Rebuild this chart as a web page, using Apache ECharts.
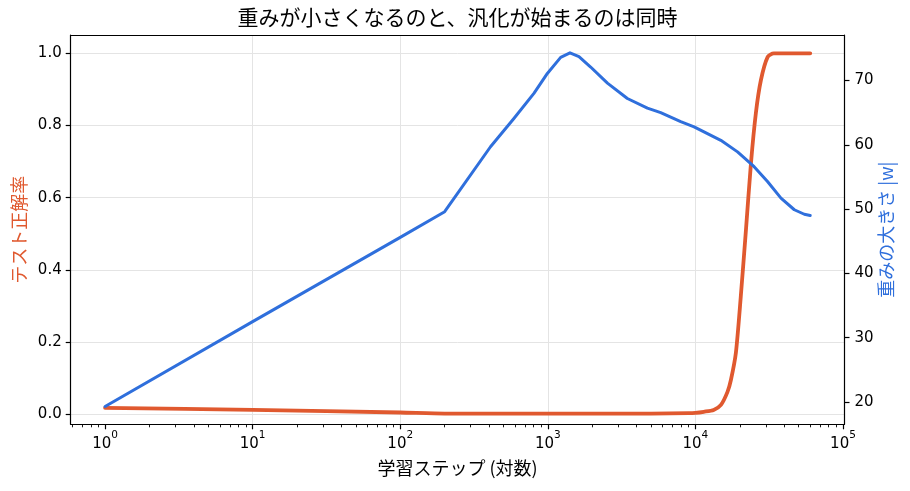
<!DOCTYPE html>
<html>
<head>
<meta charset="utf-8">
<title>grokking</title>
<script src="https://cdn.jsdelivr.net/npm/echarts@6/dist/echarts.min.js"></script>
<style>
  html, body { margin: 0; padding: 0; background: #fff; }
  #main { width: 910px; height: 491px; }
</style>
</head>
<body>
<div id="main"></div>
<script>
// テスト正解率 (left axis)
const accSteps  = [1, 10, 100, 200, 1000, 5000, 9000, 10000, 11400, 13300, 14900, 16500, 17400, 18800, 20300, 22000, 23800, 25700, 27800, 30900, 34000, 60000];
const accValues = [0.018, 0.012, 0.005, 0.002, 0.002, 0.002, 0.003, 0.004, 0.007, 0.012, 0.026, 0.062, 0.095, 0.17, 0.326, 0.51, 0.696, 0.835, 0.926, 0.99, 1.0, 1.0];

// 重みの大きさ |w| (right axis)
const normSteps  = [1, 10, 100, 200, 409, 589, 805, 993, 1222, 1413, 1626, 1950, 2535, 3460, 4730, 5820, 7950, 9800, 14870, 19300, 25000, 30800, 38000, 46800, 54700, 60000];
const normValues = [19.3, 32.5, 45.6, 49.6, 59.7, 64.1, 68.0, 71.1, 73.6, 74.3, 73.7, 72.1, 69.6, 67.2, 65.7, 65.0, 63.6, 62.8, 60.7, 58.9, 56.6, 54.3, 51.7, 49.9, 49.2, 49.0];

// tick labels
const xTicks = [1, 10, 100, 1000, 10000, 100000];
const accTicks = [0, 0.2, 0.4, 0.6, 0.8, 1.0];
const normTicks = [20, 30, 40, 50, 60, 70];

// minor ticks of the log axis (2..9 x 10^k)
const xMinorTicks = [];
for (let k = -1; k <= 4; k++) {
  for (let m = 2; m <= 9; m++) {
    const v = m * Math.pow(10, k);
    if (v > 0.585 && v < 102400) xMinorTicks.push(v);
  }
}

const RED = '#e0592f';
const BLUE = '#2f6fdc';
const CJK = '"Noto Sans CJK JP", "Noto Sans", sans-serif';
const NUM = '"DejaVu Sans", sans-serif';
const GRID = '#e4e4e4';

const pairs = (xs, ys) => xs.map((x, i) => [x, ys[i]]);

const chart = echarts.init(document.getElementById('main'), null, { renderer: 'canvas' });

const option = {
  animation: false,
  backgroundColor: '#fff',
  title: {
    text: '重みが小さくなるのと、汎化が始まるのは同時',
    left: 457.5,
    textAlign: 'center',
    top: 7,
    padding: 0,
    textStyle: { fontFamily: CJK, fontSize: 21, fontWeight: 'normal', color: '#000' }
  },
  grid: { left: 70.7, right: 65.5, top: 35, bottom: 66.7, containLabel: false },
  xAxis: [
    {
      type: 'log', logBase: 10, min: 0.585, max: 102400, position: 'bottom',
      name: '学習ステップ (対数)', nameLocation: 'middle', nameGap: 35,
      nameTextStyle: { fontFamily: CJK, fontSize: 18, color: '#000' },
      axisLine: { show: true, onZero: false, lineStyle: { color: '#000', width: 1.2 } },
      axisTick: { show: true, length: 5, customValues: xTicks, lineStyle: { color: '#000', width: 1.2 } },
      axisLabel: {
        margin: 5,
        customValues: xTicks,
        formatter: v => '{b|10}{s|' + Math.round(Math.log10(v)) + '}',
        rich: {
          b: { fontFamily: NUM, fontSize: 15, color: '#000', lineHeight: 22, verticalAlign: 'bottom' },
          s: { fontFamily: NUM, fontSize: 10.5, color: '#000', lineHeight: 10, verticalAlign: 'top' }
        }
      },
      splitLine: { show: true, showMinLine: false, showMaxLine: false, lineStyle: { color: GRID, width: 1 } }
    },
    {
      type: 'log', logBase: 10, min: 0.585, max: 102400, position: 'bottom',
      axisLine: { show: false, onZero: false },
      axisTick: { show: true, length: 3, customValues: xMinorTicks, lineStyle: { color: '#000', width: 0.9 } },
      axisLabel: { show: false },
      splitLine: { show: false }
    },
    {
      type: 'log', logBase: 10, min: 0.585, max: 102400, position: 'top',
      axisLine: { show: true, onZero: false, lineStyle: { color: '#000', width: 1.2 } },
      axisTick: { show: false },
      axisLabel: { show: false },
      splitLine: { show: false }
    }
  ],
  yAxis: [
    {
      type: 'value', position: 'left', min: -0.0277, max: 1.0507,
      name: 'テスト正解率', nameLocation: 'middle', nameGap: 43, nameRotate: 90,
      nameMoveOverlap: false,
      nameTextStyle: { fontFamily: CJK, fontSize: 18, color: RED },
      axisLine: { show: true, onZero: false, lineStyle: { color: '#000', width: 1.2 } },
      axisTick: { show: true, length: 5, customValues: accTicks, lineStyle: { color: '#000', width: 1.2 } },
      axisLabel: {
        margin: 9, customValues: accTicks,
        fontFamily: NUM, fontSize: 15, color: '#000',
        formatter: v => v.toFixed(1)
      },
      splitLine: { show: true, lineStyle: { color: GRID, width: 1 } }
    },
    {
      type: 'value', position: 'right', min: 16.53, max: 77.08,
      name: '重みの大きさ |w|', nameLocation: 'middle', nameGap: 33, nameRotate: 90,
      nameMoveOverlap: false,
      nameTextStyle: { fontFamily: CJK, fontSize: 18, color: BLUE },
      axisLine: { show: true, onZero: false, lineStyle: { color: '#000', width: 1.2 } },
      axisTick: { show: true, length: 5, customValues: normTicks, lineStyle: { color: '#000', width: 1.2 } },
      axisLabel: {
        margin: 10, customValues: normTicks,
        fontFamily: NUM, fontSize: 15, color: '#000'
      },
      splitLine: { show: false }
    }
  ],
  series: [
    {
      name: 'テスト正解率',
      type: 'line',
      xAxisIndex: 0, yAxisIndex: 0,
      data: pairs(accSteps, accValues),
      showSymbol: false,
      smooth: 0.25,
      lineStyle: { color: RED, width: 3.8, cap: 'round', join: 'round' },
      z: 3
    },
    {
      name: '重みの大きさ',
      type: 'line',
      xAxisIndex: 0, yAxisIndex: 1,
      data: pairs(normSteps, normValues),
      showSymbol: false,
      lineStyle: { color: BLUE, width: 3, cap: 'round', join: 'round' },
      z: 4
    }
  ]
};

chart.setOption(option);
</script>
</body>
</html>
